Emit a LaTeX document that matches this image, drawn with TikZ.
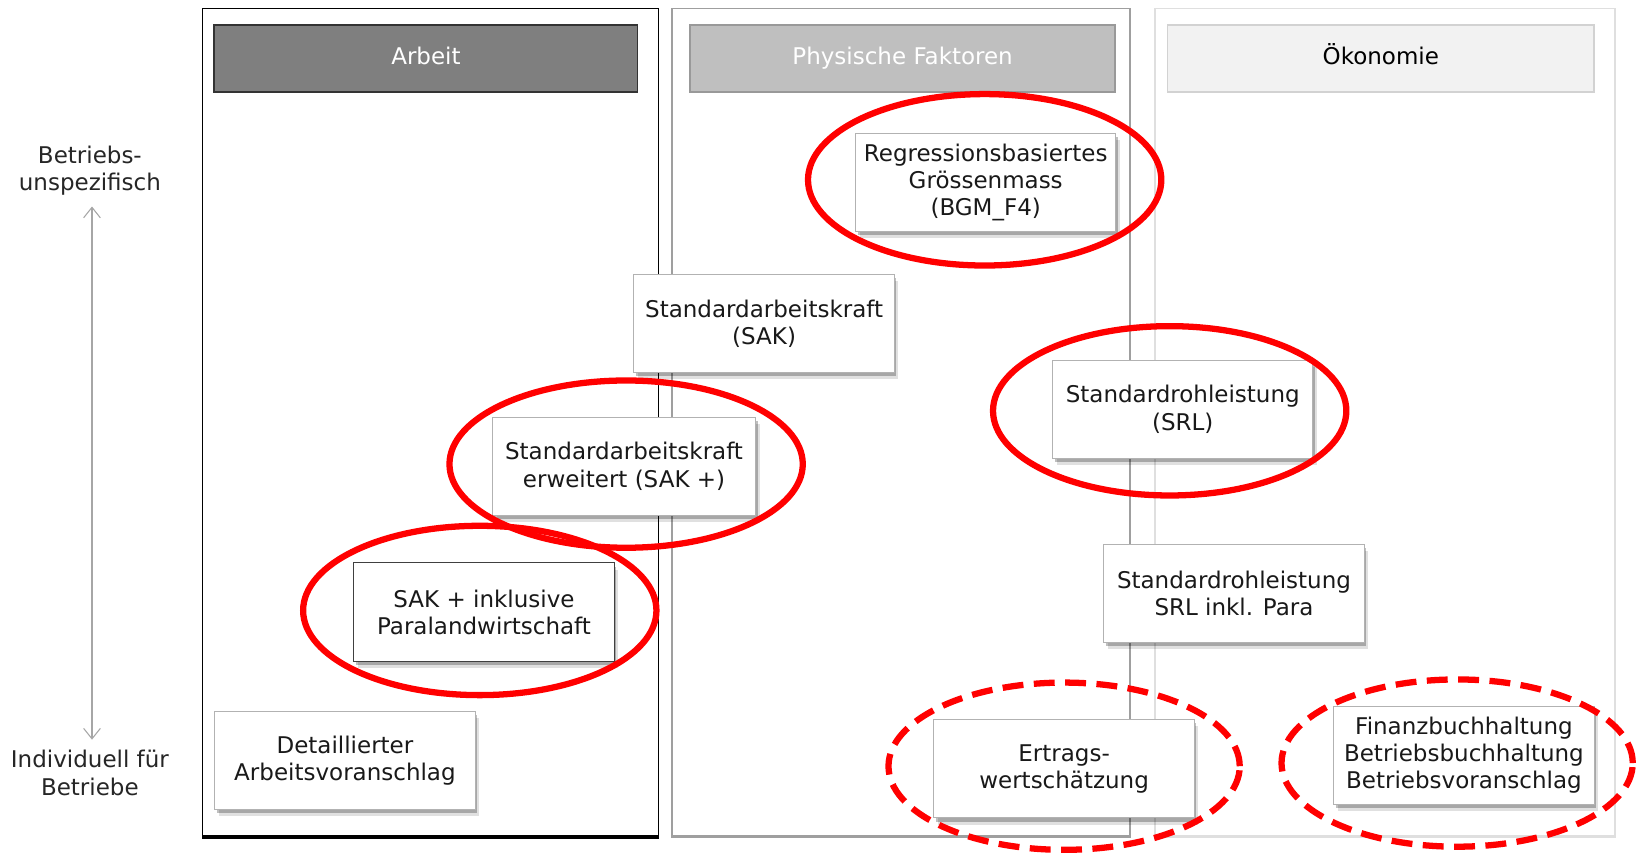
\documentclass[tikz,border=0pt]{standalone}
\usepackage{fontspec}
\setmainfont{DejaVu Sans}
\usetikzlibrary{arrows.meta,shadows}
\definecolor{hdrA}{HTML}{7F7F7F}
\definecolor{hdrB}{HTML}{BFBFBF}
\definecolor{hdrC}{HTML}{F2F2F2}
\begin{document}
\begin{tikzpicture}[x=0.5pt,y=-0.5pt,
  font=\fontsize{11}{13}\selectfont,
  panel/.style={draw=#1, minimum height=396pt, inner sep=0pt, line width=0.6pt},
  header/.style={minimum height=32pt, inner sep=0pt, line width=0.8pt,
    text height=0.75em, text depth=0.2em},
  mbox/.style={draw=gray!60, fill=white, line width=0.5pt, minimum width=124.5pt,
    minimum height=47pt, align=center, inner sep=2pt, text=black!90,
    drop shadow={shadow xshift=2pt, shadow yshift=-3.2pt, fill=black, opacity=0.12},
    drop shadow={shadow xshift=1pt, shadow yshift=-1.8pt, fill=black, opacity=0.25}},
  redring/.style={draw=red, line width=3pt},
  reddash/.style={redring, dash pattern=on 10pt off 5pt},
  sidelabel/.style={align=center, inner sep=0pt, text=black!85},
  axis/.style={draw=gray!70, line width=0.5pt,
    {Straight Barb[length=5pt,width=8pt]}-{Straight Barb[length=5pt,width=8pt]}}
]
\useasboundingbox (0,0) rectangle (1568,816);
\fill[white] (0,0) rectangle (1568,816);

% panels
\node[panel=black, minimum width=218pt] (pA) at (412,404) {};
\node[panel=gray!75, minimum width=219pt] (pB) at (862,404) {};
\node[panel=gray!25, minimum width=220pt] (pC) at (1325,404) {};
\draw[black, line width=1.6pt] (pA.south west) -- (pA.south east);
\draw[gray!75, line width=1.4pt] (pB.south west) -- (pB.south east);
\draw[gray!25, line width=1.4pt] (pC.south west) -- (pC.south east);

% headers
\node[header, draw=black!80, fill=hdrA, text=white, minimum width=202.5pt] (hA) at (407.5,56) {Arbeit};
\node[header, draw=gray!80, fill=hdrB, text=white, minimum width=203.5pt] (hB) at (863.5,56) {Physische Faktoren};
\node[header, draw=gray!35, fill=hdrC, text=black, minimum width=204pt] (hC) at (1321,56) {Ökonomie};

% side labels and axis
\node[sidelabel] (top) at (86,163.5) {Betriebs-\\unspezifisch};
\node[sidelabel] (bot) at (86,739.5) {Individuell für\\Betriebe};
\draw[axis] ([yshift=-5pt]top.south -| 88,0) -- ([yshift=5pt]bot.north -| 88,0);

% boxes
\node[mbox] (regr) at (943,174.5) {Regressionsbasiertes\\Grössenmass\\(BGM\_F4)};
\node[mbox] (sak) at (731,309.5) {Standardarbeitskraft\\(SAK)};
\node[mbox] (srl) at (1131.5,391.5) {Standardrohleistung\\(SRL)};
\node[mbox, minimum width=126pt] (sakp) at (597,446) {Standardarbeitskraft\\erweitert (SAK +)};
\node[mbox, draw=black!75] (sakinkl) at (463,585.5) {SAK + inklusive\\Paralandwirtschaft};
\node[mbox] (srlpara) at (1180.5,567.5) {Standardrohleistung\\SRL inkl. Para};
\node[mbox] (detail) at (330,727.5) {Detaillierter\\Arbeitsvoranschlag};
\node[mbox] (ertrag) at (1018,735.5) {Ertrags-\\wertschätzung};
\node[mbox] (finanz) at (1400.5,722.5) {Finanzbuchhaltung\\Betriebsbuchhaltung\\Betriebsvoranschlag};

% red marks
\draw[redring] (942,172) ellipse [x radius=84.5pt, y radius=41pt];
\draw[redring] (1119,393) ellipse [x radius=84.5pt, y radius=40.5pt];
\draw[redring] (599,444) ellipse [x radius=84.5pt, y radius=40pt];
\draw[redring] (459,584) ellipse [x radius=84.5pt, y radius=40.5pt];
\draw[reddash] (1018,733) ellipse [x radius=84pt, y radius=40pt];
\draw[reddash] (1394,730) ellipse [x radius=84pt, y radius=40pt];
\end{tikzpicture}
\end{document}
